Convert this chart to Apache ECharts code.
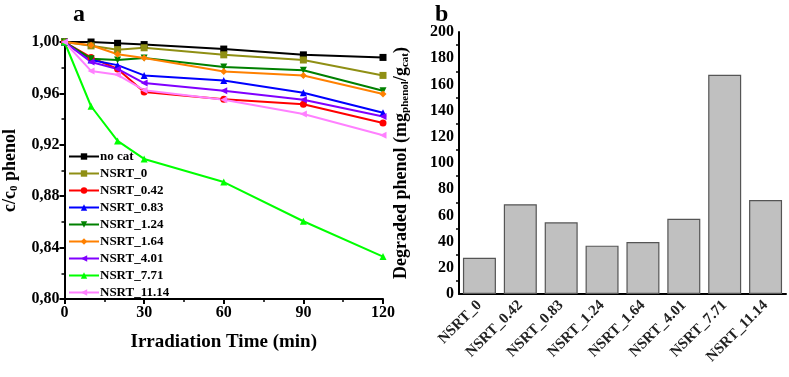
<!DOCTYPE html>
<html>
<head>
<meta charset="utf-8">
<script src="https://cdn.jsdelivr.net/npm/echarts@6/dist/echarts.min.js"></script>
<style>
  html, body { margin: 0; padding: 0; background: #fff; }
  #chart { width: 789px; height: 377px; }
</style>
</head>
<body>
<div id="chart"></div>
<script>
// panel a: c/c0 vs irradiation time
const times = [0, 10, 20, 30, 60, 90, 120];
const noCat   = [1.000, 1.000, 0.999, 0.998, 0.9945, 0.990, 0.988];
const nsrt0   = [1.000, 0.997, 0.994, 0.9955, 0.990, 0.986, 0.974];
const nsrt042 = [1.000, 0.988, 0.979, 0.961, 0.9555, 0.9515, 0.937];
const nsrt083 = [1.000, 0.986, 0.982, 0.974, 0.970, 0.9605, 0.945];
const nsrt124 = [1.000, 0.987, 0.986, 0.9875, 0.9805, 0.978, 0.962];
const nsrt164 = [1.000, 0.9975, 0.9905, 0.9875, 0.977, 0.974, 0.9595];
const nsrt401 = [1.000, 0.9845, 0.979, 0.968, 0.962, 0.955, 0.942];
const nsrt771 = [1.000, 0.950, 0.923, 0.909, 0.891, 0.8605, 0.833];
const nsrt1114 = [1.000, 0.9775, 0.9745, 0.9625, 0.955, 0.944, 0.9275];

// panel b: degraded phenol
const catalysts = ["NSRT_0", "NSRT_0.42", "NSRT_0.83", "NSRT_1.24", "NSRT_1.64", "NSRT_4.01", "NSRT_7.71", "NSRT_11.14"];
const degraded = [27.7, 68.5, 54.7, 36.9, 39.7, 57.5, 167.4, 71.8];

const lineSeries = [
  { name: "no cat", data: noCat, color: "#000000", symbol: "rect", rot: 0 },
  { name: "NSRT_0", data: nsrt0, color: "#8f8f14", symbol: "rect", rot: 0 },
  { name: "NSRT_0.42", data: nsrt042, color: "#ff0000", symbol: "circle", rot: 0 },
  { name: "NSRT_0.83", data: nsrt083, color: "#0000ff", symbol: "triangle", rot: 0 },
  { name: "NSRT_1.24", data: nsrt124, color: "#008000", symbol: "triangle", rot: 180 },
  { name: "NSRT_1.64", data: nsrt164, color: "#ff8000", symbol: "diamond", rot: 0 },
  { name: "NSRT_4.01", data: nsrt401, color: "#8000ff", symbol: "triangle", rot: 90 },
  { name: "NSRT_7.71", data: nsrt771, color: "#00ff00", symbol: "triangle", rot: 0 },
  { name: "NSRT_11.14", data: nsrt1114, color: "#ff80ff", symbol: "triangle", rot: 90 },
];

const font = "Liberation Serif";
const axisLine = { lineStyle: { color: "#000", width: 2 } };
const tickLabel = { color: "#000", fontFamily: font, fontWeight: "bold", fontSize: 16 };

const chart = echarts.init(document.getElementById("chart"));

chart.setOption({
  animation: false,
  backgroundColor: "#fff",
  title: [
    { text: "a", left: 68, top: -2, textStyle: { fontFamily: font, fontWeight: "bold", fontSize: 24, color: "#000" } },
    { text: "b", left: 430, top: -2, textStyle: { fontFamily: font, fontWeight: "bold", fontSize: 24, color: "#000" } },
  ],
  legend: {
    orient: "vertical",
    left: 63,
    top: 145,
    itemWidth: 30,
    itemHeight: 8,
    itemGap: 4,
    textStyle: { fontFamily: font, fontWeight: "bold", fontSize: 13, color: "#000", padding: [0, 0, 0, -4] },
    data: lineSeries.map((s) => s.name),
  },
  grid: [
    { left: 63, right: 406, top: 42, bottom: 78 },
    { left: 459, right: 3, top: 32, bottom: 83 },
  ],
  xAxis: [
    {
      gridIndex: 0,
      type: "value",
      min: 0,
      max: 120,
      interval: 30,
      name: "Irradiation Time (min)",
      nameLocation: "middle",
      nameGap: 34,
      nameTextStyle: { fontFamily: font, fontWeight: "bold", fontSize: 19, color: "#000" },
      axisLine: axisLine,
      axisTick: { length: 5, lineStyle: { width: 2, color: "#000" } },
      minorTick: { show: true, splitNumber: 2, length: 3, lineStyle: { color: "#000", width: 1.5 } },
      axisLabel: { ...tickLabel, margin: 6 },
      splitLine: { show: false },
    },
    {
      gridIndex: 1,
      type: "category",
      data: catalysts,
      axisLine: axisLine,
      axisTick: { alignWithLabel: true, length: 5, lineStyle: { width: 2, color: "#000" } },
      axisLabel: { color: "#222", fontFamily: font, fontWeight: "bold", fontSize: 15, rotate: 45, margin: 9, interval: 0 },
    },
  ],
  yAxis: [
    {
      gridIndex: 0,
      type: "value",
      min: 0.8,
      max: 1.0,
      interval: 0.04,
      name: "c/c{sub|0} phenol",
      nameLocation: "middle",
      nameGap: 45,
      nameTextStyle: {
        fontFamily: font, fontWeight: "bold", fontSize: 18, color: "#000",
        rich: { sub: { fontFamily: font, fontWeight: "bold", fontSize: 11, color: "#000", verticalAlign: "bottom", padding: [8, 0, 0, 0] } },
      },
      axisLine: { show: true, ...axisLine },
      axisTick: { length: 5, lineStyle: { width: 2, color: "#000" } },
      minorTick: { show: true, splitNumber: 2, length: 3, lineStyle: { color: "#000", width: 1.5 } },
      axisLabel: { ...tickLabel, margin: 5, formatter: (v) => v.toFixed(2).replace(".", ",") },
      splitLine: { show: false },
    },
    {
      gridIndex: 1,
      type: "value",
      min: 0,
      max: 200,
      interval: 20,
      name: "Degraded phenol (mg{sub|phenol}/g{sub|cat})",
      nameLocation: "middle",
      nameGap: 48,
      nameTextStyle: {
        fontFamily: font, fontWeight: "bold", fontSize: 18, color: "#000",
        rich: { sub: { fontFamily: font, fontWeight: "bold", fontSize: 11, color: "#000", verticalAlign: "bottom", padding: [8, 0, 0, 0] } },
      },
      axisLine: { show: true, ...axisLine },
      axisTick: { length: 5, lineStyle: { width: 2, color: "#000" } },
      minorTick: { show: true, splitNumber: 2, length: 3, lineStyle: { color: "#000", width: 1.5 } },
      axisLabel: { ...tickLabel, margin: 5 },
      splitLine: { show: false },
    },
  ],
  series: [
    ...lineSeries.map((s) => ({
      name: s.name,
      type: "line",
      xAxisIndex: 0,
      yAxisIndex: 0,
      data: s.data.map((v, i) => [times[i], v]),
      color: s.color,
      symbol: s.symbol,
      symbolRotate: s.rot,
      symbolSize: 7,
      lineStyle: { width: 2, color: s.color },
      itemStyle: { color: s.color },
      z: 3,
    })),
    {
      type: "bar",
      xAxisIndex: 1,
      yAxisIndex: 1,
      data: degraded,
      barWidth: 33,
      itemStyle: { color: "#c0c0c0", borderColor: "#555", borderWidth: 1.2 },
    },
  ],
});
</script>
</body>
</html>
